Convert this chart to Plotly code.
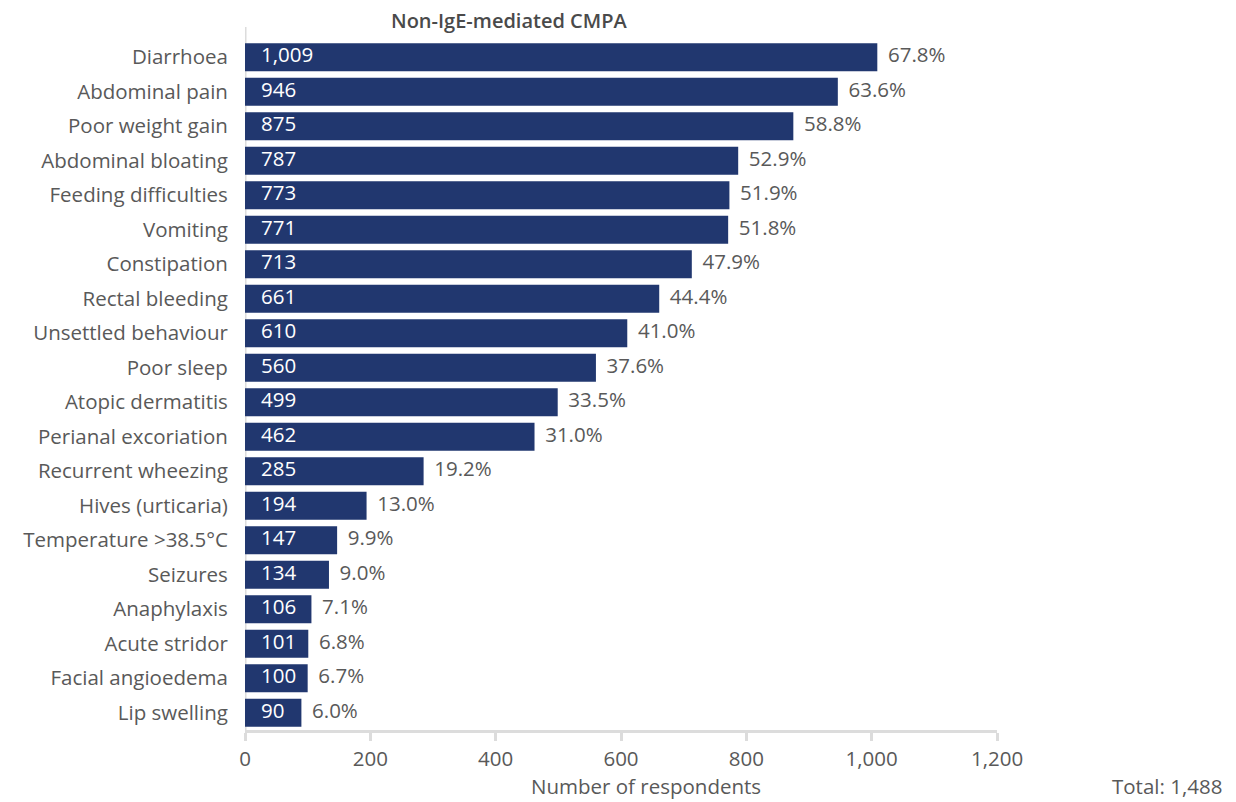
import plotly.graph_objects as go

categories = ["Diarrhoea", "Abdominal pain", "Poor weight gain", "Abdominal bloating",
              "Feeding difficulties", "Vomiting", "Constipation", "Rectal bleeding",
              "Unsettled behaviour", "Poor sleep", "Atopic dermatitis", "Perianal excoriation",
              "Recurrent wheezing", "Hives (urticaria)", "Temperature >38.5°C", "Seizures",
              "Anaphylaxis", "Acute stridor", "Facial angioedema", "Lip swelling"]
counts = [1009, 946, 875, 787, 773, 771, 713, 661, 610, 560, 499, 462, 285, 194, 147, 134, 106, 101, 100, 90]
percents = ["67.8%", "63.6%", "58.8%", "52.9%", "51.9%", "51.8%", "47.9%", "44.4%", "41.0%", "37.6%",
            "33.5%", "31.0%", "19.2%", "13.0%", "9.9%", "9.0%", "7.1%", "6.8%", "6.7%", "6.0%"]
x_ticks = [0, 200, 400, 600, 800, 1000, 1200]
title = "Non-IgE-mediated CMPA"
x_title = "Number of respondents"
total_note = "Total: 1,488"

FONT = "Open Sans"
GREY = "#595959"
NAVY = "#21376f"
FS = 20.5

fig = go.Figure()
fig.add_trace(go.Bar(
    y=categories, x=counts, orientation="h",
    marker=dict(color=NAVY, line=dict(width=0)),
    hoverinfo="skip",
))
fig.add_trace(go.Scatter(
    y=categories, x=[0] * len(counts), mode="text",
    text=["   " + f"{c:,}" for c in counts], textposition="middle right",
    textfont=dict(color="white", size=FS, family=FONT),
    hoverinfo="skip", cliponaxis=False,
))
fig.add_trace(go.Scatter(
    y=categories, x=counts, mode="text",
    text=["  " + p for p in percents], textposition="middle right",
    textfont=dict(color=GREY, size=FS, family=FONT),
    hoverinfo="skip", cliponaxis=False,
))

fig.update_layout(
    width=1236, height=802,
    margin=dict(l=245, r=239, t=40, b=72),
    paper_bgcolor="white", plot_bgcolor="white",
    showlegend=False, bargap=0.19,
    font=dict(family=FONT, color=GREY, size=FS),
    xaxis=dict(range=[0, 1200], tickvals=x_ticks, tickformat=",",
               showgrid=False, zeroline=False, showline=True, linecolor="#dcdcdc", linewidth=3,
               ticks="outside", ticklen=8, tickwidth=3, tickcolor="#dcdcdc",
               tickfont=dict(size=FS, color=GREY, family=FONT)),
    yaxis=dict(range=[len(categories) - 0.5, -0.5], showgrid=False, zeroline=False, showline=False,
               ticks="outside", ticklen=12, tickcolor="rgba(0,0,0,0)",
               tickfont=dict(size=FS, color=GREY, family=FONT)),
)

fig.add_shape(type="line", xref="x", yref="paper", x0=0, x1=0, y0=-0.005, y1=1.019,
              line=dict(color="#dcdcdc", width=3), layer="below")

fig.add_annotation(text=title, xref="paper", yref="paper", x=(509-245)/752, y=1.0,
                   yshift=20, xanchor="center", yanchor="middle", showarrow=False,
                   font=dict(size=20, color="#4a4a4a", family=FONT, weight=600))
fig.add_annotation(text=x_title, xref="paper", yref="paper", x=(646-245)/752, y=0,
                   yshift=-56, xanchor="center", yanchor="middle", showarrow=False,
                   font=dict(size=FS, color=GREY, family=FONT))
fig.add_annotation(text=total_note, xref="paper", yref="paper", x=(1224-245)/752, y=0,
                   yshift=-56, xanchor="right", yanchor="middle", showarrow=False,
                   font=dict(size=FS, color=GREY, family=FONT))

fig.write_html("out.html")
